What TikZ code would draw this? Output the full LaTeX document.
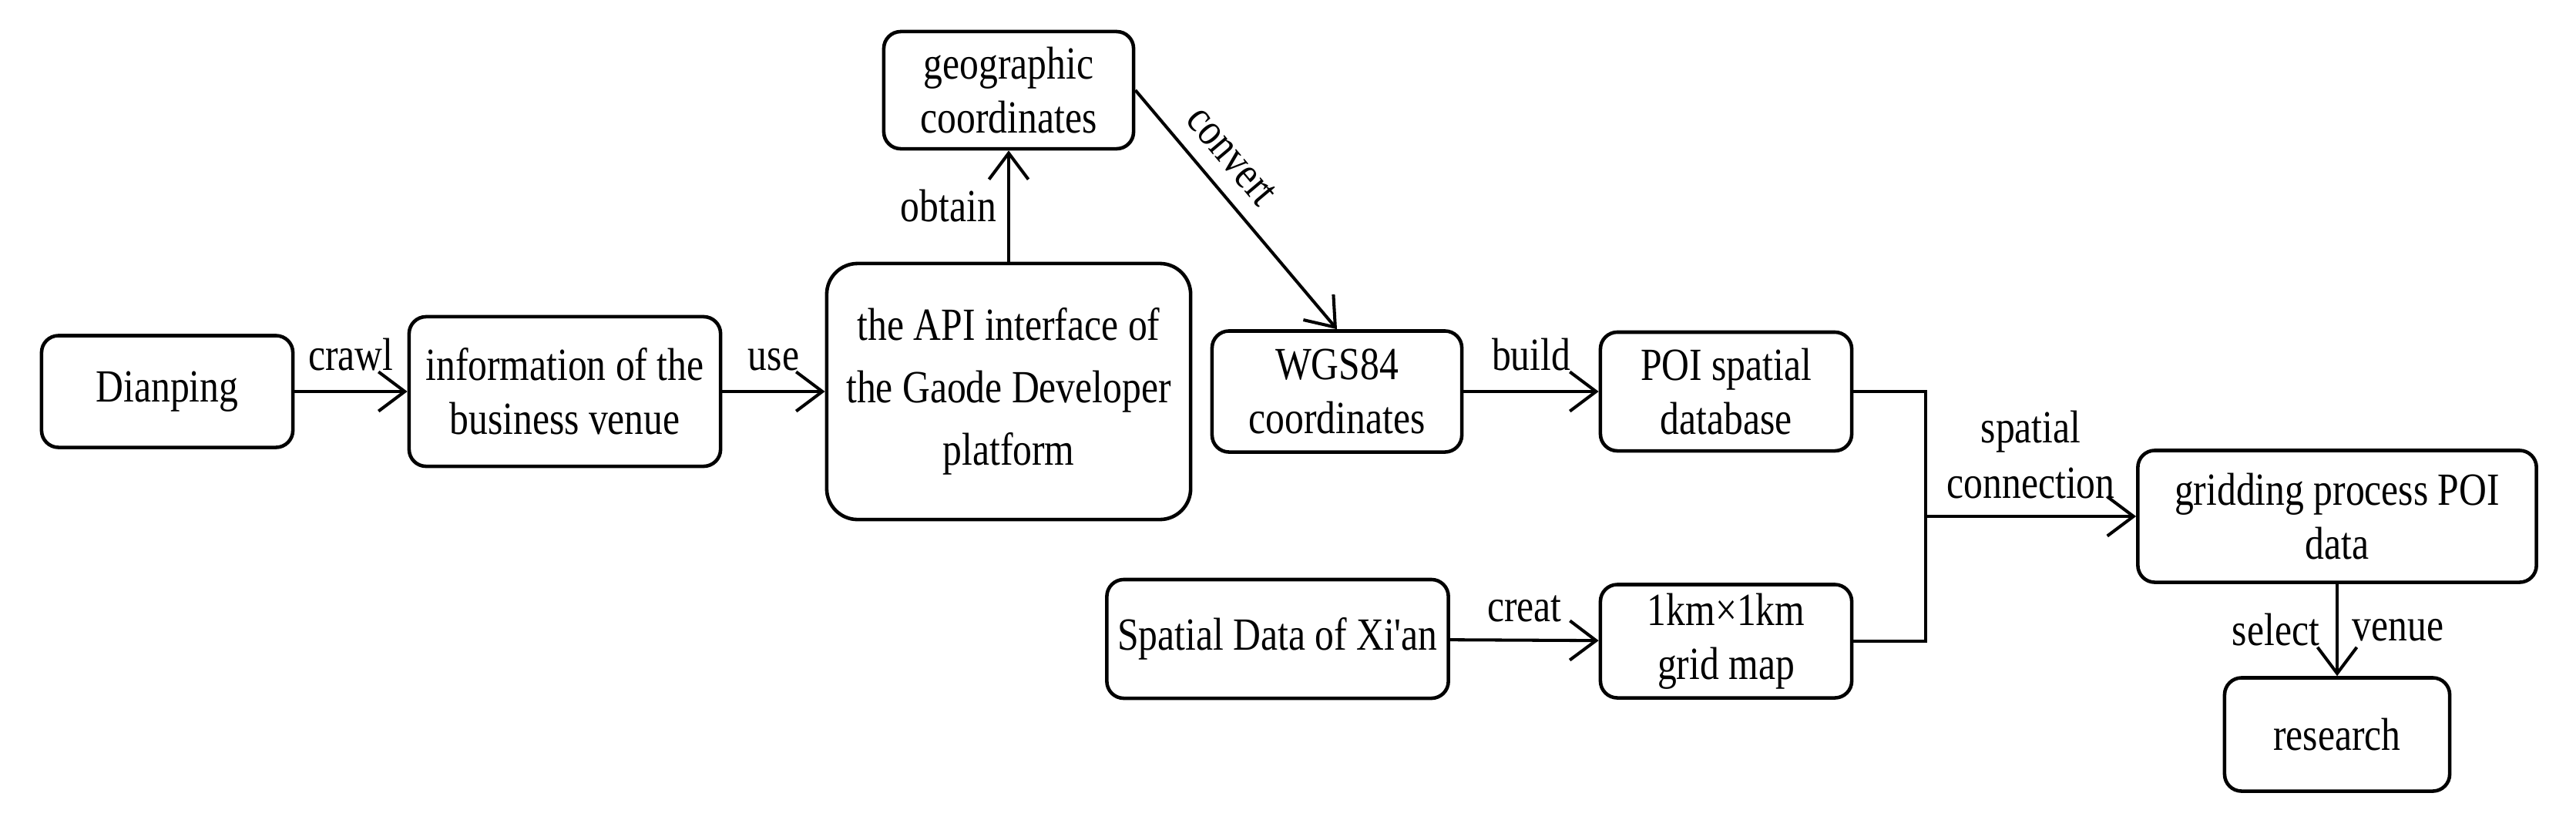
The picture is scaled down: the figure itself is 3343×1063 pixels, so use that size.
\documentclass[tikz,border=0pt]{standalone}
\usepackage{fontspec}
\setmainfont{Liberation Serif}[FakeStretch=0.83]
\newfontfamily\aposfont{Liberation Serif}[FakeStretch=0.83]
\usetikzlibrary{arrows.meta}
\begin{document}
\begin{tikzpicture}[x=0.01cm,y=-0.01cm,
  box/.style={draw, line width=1.3pt, rounded corners=0.22cm, align=center, inner sep=0pt,
    font=\fontsize{17}{20}\selectfont},
  lab/.style={font=\fontsize{17}{20.5}\selectfont, inner sep=1pt, align=center},
  arr/.style={-{Straight Barb[length=3.4mm,width=5.1mm]}},
  conn/.style={line width=1.15pt}]
\useasboundingbox (0,0) rectangle (3343,1063);

\node[box, minimum width=3.26cm, minimum height=1.45cm] (dian) at (217,508) {Dianping};
\node[box, minimum width=4.04cm, minimum height=1.94cm] (info) at (733,508) {information of the\\business venue};
\node[box, minimum width=4.72cm, minimum height=3.32cm, rounded corners=0.4cm,
  font=\fontsize{17}{23}\selectfont] (api) at (1309,508) {the API interface of\\the Gaode Developer\\platform};
\node[box, minimum width=3.24cm, minimum height=1.52cm] (geo) at (1309,117) {geographic\\coordinates};
\node[box, minimum width=3.24cm, minimum height=1.57cm] (wgs) at (1735,508) {WGS84\\coordinates};
\node[box, minimum width=3.26cm, minimum height=1.54cm] (poi) at (2240,508) {POI spatial\\database};
\node[box, minimum width=5.17cm, minimum height=1.71cm] (grid) at (3033,670) {gridding process POI\\data};
\node[box, minimum width=4.43cm, minimum height=1.54cm] (xian) at (1658,829) {Spatial Data of Xi{\aposfont'}an};
\node[box, minimum width=3.26cm, minimum height=1.47cm] (gmap) at (2240,832) {1km×1km\\grid map};
\node[box, minimum width=2.92cm, minimum height=1.47cm] (res) at (3033,953) {research};

\coordinate (j) at (2499,670);

\draw[conn,arr] (dian) -- node[lab,above=6pt]{crawl} (info);
\draw[conn,arr] (info) -- node[lab,above=6pt]{use} (api);
\draw[conn,arr] (api) -- node[lab,left=3pt]{obtain} (geo);
\draw[conn,arr] (geo.east) -- node[lab,above=5pt,sloped,pos=0.36]{convert} (wgs.north);
\draw[conn,arr] (wgs) -- node[lab,above=6pt]{build} (poi);
\draw[conn] (poi.east) -- (poi.east -| j) -- (gmap.east -| j) -- (gmap.east);
\draw[conn,arr] (j) -- node[lab,above=5pt]{spatial\\connection} (grid.west);
\draw[conn,arr] (xian) -- node[lab,above=5pt]{creat} (gmap);
\draw[conn,arr] (grid) -- node[lab,left=5pt]{select} node[lab,right=4pt]{venue} (res);
\end{tikzpicture}
\end{document}
